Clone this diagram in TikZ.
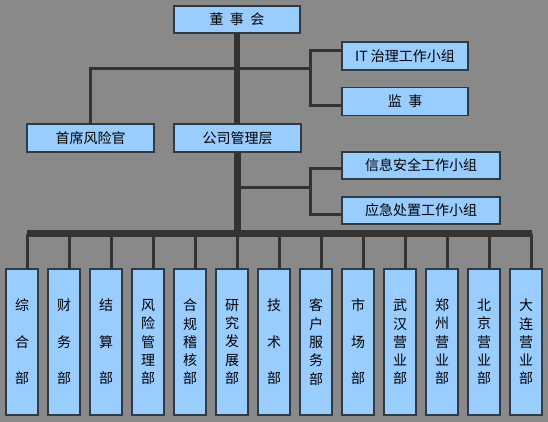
\documentclass[tikz,border=0pt]{standalone}
\usepackage{fontspec}
\newfontfamily\cjk{Noto Sans CJK SC}
\usetikzlibrary{positioning, calc}
\definecolor{Backdrop}{HTML}{898989}
\definecolor{BoxBlue}{HTML}{99CCFF}
\definecolor{BoxEdge}{HTML}{2E3A46}
\definecolor{LineDark}{HTML}{333333}
\begin{document}
\begin{tikzpicture}[x=1pt,y=-1pt,font=\cjk\fontsize{14}{18.3}\selectfont,orgbox/.style={draw=BoxEdge,fill=BoxBlue,line width=1.4pt,minimum height=28pt,inner sep=0pt,outer sep=0pt},deptbox/.style={draw=BoxEdge,fill=BoxBlue,line width=1.4pt,minimum width=32pt,minimum height=146pt,inner sep=0pt,outer sep=0pt,align=center},thinline/.style={draw=LineDark,line width=3pt},tapline/.style={draw=LineDark,line width=2.8pt},trunkline/.style={draw=LineDark,line width=6.5pt}]
\fill[Backdrop] (0,0) rectangle (548,422);
\node[orgbox,minimum width=126pt,minimum height=27pt] (board) at (237,19.5) {董\hspace{6.5pt}事\hspace{6.5pt}会};
\node[orgbox,minimum width=126pt] (itgroup) at (405,56) {IT 治理工作小组};
\node[orgbox,minimum width=126pt] (supervisor) at (405,101.5) {监\hspace{6.5pt}事};
\node[orgbox,minimum width=127pt] (mgmt) at (237.5,138) {公司管理层};
\node[orgbox,minimum width=127pt,left=20pt of mgmt] (cro) {首席风险官};
\node[orgbox,minimum width=158pt,minimum height=27pt] (infosec) at (421,165.5) {信息安全工作小组};
\node[orgbox,minimum width=158pt,minimum height=27pt] (emergency) at (421,210.5) {应急处置工作小组};
\coordinate (topfork) at (310,69);
\coordinate (midfork) at (310,187.5);
\coordinate (barleft) at (27,233.5);
\coordinate (barright) at (532,233.5);
\draw[thinline] (cro.north) |- (topfork);
\draw[thinline] ([yshift=5pt]itgroup.west) -| (topfork) |- ([yshift=-4.5pt]supervisor.west);
\draw[thinline] (mgmt.south |- midfork) -- (midfork);
\draw[thinline] ([yshift=-3pt]infosec.west) -| (midfork) |- ([yshift=-4pt]emergency.west);
\draw[trunkline] (board.south) -- (board.south |- mgmt.north);
\draw[trunkline] (mgmt.south) -- (mgmt.south |- barleft);
\draw[trunkline] (barleft) -- (barright);
\node[deptbox] (d1) at (22,342) {综\\[18.3pt]合\\[18.3pt]部};
\node[deptbox, right=10pt of d1] (d2) {财\\[18.3pt]务\\[18.3pt]部};
\node[deptbox, right=10pt of d2] (d3) {结\\[18.3pt]算\\[18.3pt]部};
\node[deptbox, right=10pt of d3] (d4) {风\\险\\管\\理\\部};
\node[deptbox, right=10pt of d4] (d5) {合\\规\\稽\\核\\部};
\node[deptbox, right=10pt of d5] (d6) {研\\究\\发\\展\\部};
\node[deptbox, right=10pt of d6] (d7) {技\\[18.3pt]术\\[18.3pt]部};
\node[deptbox, right=10pt of d7] (d8) {客\\户\\服\\务\\部};
\node[deptbox, right=10pt of d8] (d9) {市\\[18.3pt]场\\[18.3pt]部};
\node[deptbox, right=10pt of d9] (d10) {武\\汉\\营\\业\\部};
\node[deptbox, right=10pt of d10] (d11) {郑\\州\\营\\业\\部};
\node[deptbox, right=10pt of d11] (d12) {北\\京\\营\\业\\部};
\node[deptbox, right=10pt of d12] (d13) {大\\连\\营\\业\\部};
\draw[tapline] ($(d1.north)+(5.5,0)$) -- ($(d1.north |- barleft)+(5.5,0)$);
\draw[tapline] ($(d2.north)+(5.5,0)$) -- ($(d2.north |- barleft)+(5.5,0)$);
\draw[tapline] ($(d3.north)+(5.5,0)$) -- ($(d3.north |- barleft)+(5.5,0)$);
\draw[tapline] ($(d4.north)+(5.5,0)$) -- ($(d4.north |- barleft)+(5.5,0)$);
\draw[tapline] ($(d5.north)+(5.5,0)$) -- ($(d5.north |- barleft)+(5.5,0)$);
\draw[tapline] ($(d6.north)+(5.5,0)$) -- ($(d6.north |- barleft)+(5.5,0)$);
\draw[tapline] ($(d7.north)+(5.5,0)$) -- ($(d7.north |- barleft)+(5.5,0)$);
\draw[tapline] ($(d8.north)+(5.5,0)$) -- ($(d8.north |- barleft)+(5.5,0)$);
\draw[tapline] ($(d9.north)+(5.5,0)$) -- ($(d9.north |- barleft)+(5.5,0)$);
\draw[tapline] ($(d10.north)+(5.5,0)$) -- ($(d10.north |- barleft)+(5.5,0)$);
\draw[tapline] ($(d11.north)+(5.5,0)$) -- ($(d11.north |- barleft)+(5.5,0)$);
\draw[tapline] ($(d12.north)+(5.5,0)$) -- ($(d12.north |- barleft)+(5.5,0)$);
\draw[tapline] ($(d13.north)+(5.5,0)$) -- ($(d13.north |- barleft)+(5.5,0)$);
\end{tikzpicture}
\end{document}
